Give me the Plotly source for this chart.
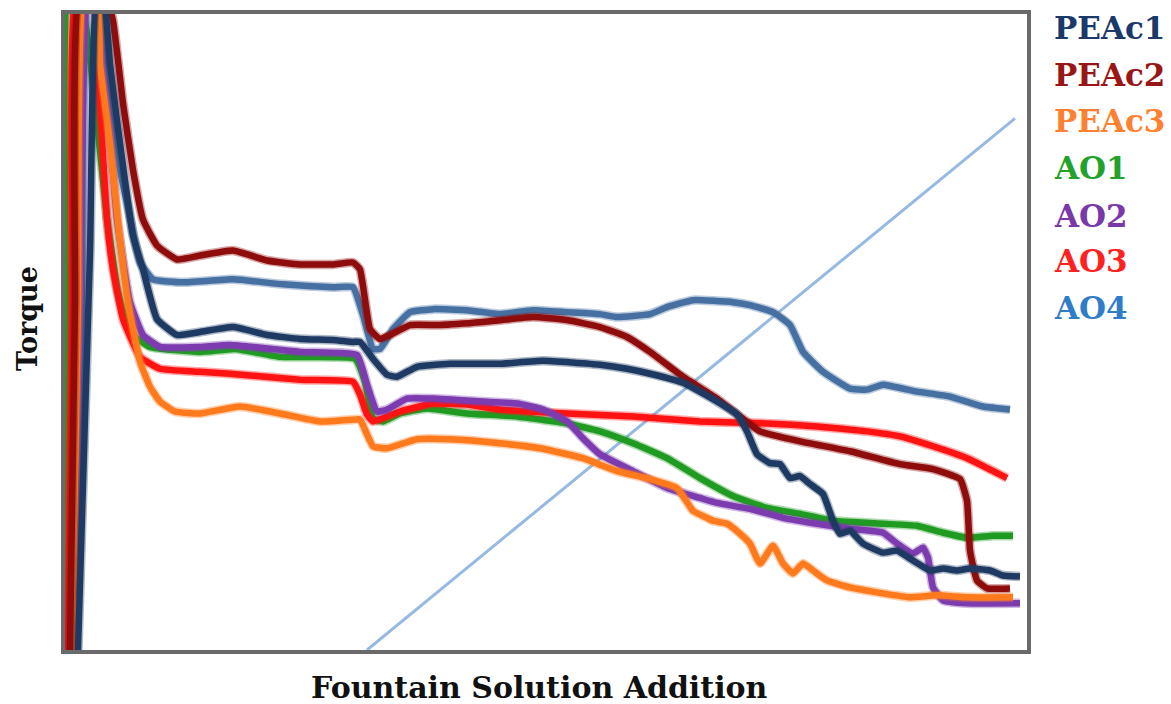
import plotly.graph_objects as go

# Fountain solution addition (arbitrary units) vs torque (arbitrary units)
peac1_x = [13, 25, 32, 38, 45, 52, 68, 78, 92, 112, 135, 168, 202, 235, 268, 288, 295, 308, 322, 332, 352, 385, 435, 478, 535, 562, 585, 618, 652, 672, 682, 692, 705, 715, 725, 735, 745, 758, 768, 775, 785, 798, 818, 832, 848, 865, 878, 892, 905, 925, 938, 955]
peac1_y = [0, 400, 660, 660, 590, 533, 417, 383, 333, 317, 320, 325, 317, 313, 312, 310, 310, 293, 277, 275, 285, 288, 288, 291, 287, 283, 278, 269, 250, 237, 220, 197, 188, 187, 173, 175, 167, 157, 130, 117, 120, 107, 98, 100, 90, 80, 82, 80, 82, 80, 75, 74]

peac2_x = [5, 10, 15, 40, 48, 58, 68, 78, 92, 112, 135, 168, 202, 235, 268, 288, 295, 305, 315, 325, 345, 375, 418, 468, 502, 535, 562, 585, 618, 652, 675, 695, 735, 785, 835, 868, 895, 902, 905, 912, 922, 945]
peac2_y = [0, 350, 660, 660, 633, 550, 483, 433, 407, 393, 397, 402, 392, 388, 388, 390, 383, 323, 313, 317, 327, 327, 330, 335, 332, 325, 315, 300, 275, 253, 235, 220, 210, 200, 187, 182, 172, 150, 100, 70, 62, 62]

peac3_x = [7, 13, 19, 32, 35, 45, 53, 63, 75, 85, 95, 110, 135, 175, 215, 255, 290, 295, 308, 322, 352, 385, 435, 475, 518, 552, 585, 612, 628, 642, 648, 662, 675, 685, 695, 708, 718, 728, 738, 752, 762, 785, 818, 845, 872, 902, 948]
peac3_y = [0, 350, 660, 660, 590, 510, 430, 350, 290, 265, 250, 240, 238, 245, 238, 230, 232, 232, 205, 203, 212, 212, 208, 203, 193, 180, 172, 163, 140, 133, 130, 127, 117, 107, 87, 105, 87, 77, 87, 77, 70, 63, 57, 53, 55, 53, 53]

ao1_x = [0, 1, 3, 15, 30, 42, 53, 65, 85, 135, 170, 215, 290, 300, 308, 318, 335, 362, 402, 452, 502, 535, 568, 602, 635, 668, 702, 735, 768, 818, 852, 878, 902, 928, 948]
ao1_y = [0, 350, 660, 660, 550, 435, 360, 320, 305, 300, 303, 295, 293, 270, 233, 230, 238, 243, 238, 235, 228, 220, 208, 193, 173, 155, 143, 137, 130, 127, 125, 118, 113, 115, 115]

ao2_x = [7, 15, 23, 30, 37, 45, 52, 65, 78, 95, 135, 165, 235, 292, 302, 312, 322, 342, 368, 418, 452, 478, 502, 518, 535, 568, 602, 635, 652, 685, 718, 752, 785, 818, 832, 848, 858, 863, 868, 878, 902, 955]
ao2_y = [0, 350, 660, 660, 590, 517, 433, 350, 317, 305, 305, 307, 300, 297, 267, 240, 242, 253, 253, 250, 248, 242, 230, 213, 197, 180, 163, 153, 148, 142, 133, 127, 122, 118, 107, 97, 103, 93, 63, 50, 47, 47]

ao3_x = [3, 7, 11, 27, 35, 42, 48, 58, 75, 95, 135, 165, 235, 288, 295, 302, 308, 335, 368, 402, 435, 502, 568, 635, 702, 752, 802, 835, 868, 902, 942]
ao3_y = [0, 350, 660, 660, 550, 433, 383, 333, 295, 283, 280, 278, 272, 270, 257, 237, 230, 240, 248, 247, 242, 238, 235, 230, 228, 225, 220, 215, 205, 193, 173]

ao4_x = [11, 17, 23, 35, 45, 55, 62, 75, 88, 118, 168, 218, 268, 288, 298, 308, 315, 328, 345, 368, 402, 435, 468, 502, 535, 552, 585, 602, 628, 668, 685, 708, 725, 738, 758, 785, 802, 818, 852, 885, 918, 945]
ao4_y = [0, 350, 660, 660, 570, 483, 450, 390, 373, 370, 373, 368, 365, 365, 337, 303, 303, 323, 340, 343, 342, 338, 342, 340, 338, 335, 338, 345, 352, 350, 347, 340, 327, 300, 280, 263, 262, 267, 260, 255, 245, 242]

addition_x = [302, 950]
addition_y = [0, 535]

names = ["PEAc1", "PEAc2", "PEAc3", "AO1", "AO2", "AO3", "AO4"]
line_colors = {"PEAc1": "#1E3A62", "PEAc2": "#8E0C0C", "PEAc3": "#FF7A1C",
               "AO1": "#1F9B22", "AO2": "#7C3BAE", "AO3": "#FF1212", "AO4": "#4670A2"}
label_colors = {"PEAc1": "#1B3A6B", "PEAc2": "#981616", "PEAc3": "#FF8030",
                "AO1": "#22A22A", "AO2": "#7A38A8", "AO3": "#FF2020", "AO4": "#2F7DC8"}
series = {"PEAc1": (peac1_x, peac1_y), "PEAc2": (peac2_x, peac2_y), "PEAc3": (peac3_x, peac3_y),
          "AO1": (ao1_x, ao1_y), "AO2": (ao2_x, ao2_y), "AO3": (ao3_x, ao3_y), "AO4": (ao4_x, ao4_y)}

fig = go.Figure()
fig.add_trace(go.Scatter(x=addition_x, y=addition_y, mode="lines",
                         line=dict(color="#96B9E4", width=3), showlegend=False, hoverinfo="skip"))
draw_order = ["AO4", "AO1", "AO3", "AO2", "PEAc3", "PEAc2", "PEAc1"]
for n in draw_order:
    xs, ys = series[n]
    # soft halo underneath, then the solid line
    fig.add_trace(go.Scatter(x=xs, y=ys, mode="lines", opacity=0.35, hoverinfo="skip",
                             line=dict(color=line_colors[n], width=9.5, shape="spline", smoothing=0.4),
                             showlegend=False))
    fig.add_trace(go.Scatter(x=xs, y=ys, mode="lines", name=n,
                             line=dict(color=line_colors[n], width=6.5, shape="spline", smoothing=0.4),
                             showlegend=False))

L, R, T, B = 65, 144, 10, 54
pw, ph = 1171 - L - R, 704 - T - B
label_y_px = [24, 71, 118, 165, 213, 259, 306]
annotations = []
for n, ypx in zip(names, label_y_px):
    annotations.append(dict(text="<b>" + n + "</b>", xref="paper", yref="paper",
                            x=(1052 - L) / pw, y=(650 - ypx) / ph,
                            xanchor="left", yanchor="middle", showarrow=False,
                            font=dict(family="DejaVu Serif", size=31, color=label_colors[n])))
annotations.append(dict(text="<b>Fountain Solution Addition</b>", xref="paper", yref="paper",
                        x=(539 - L) / pw, y=(650 - 688) / ph, xanchor="center", yanchor="middle",
                        showarrow=False, font=dict(family="DejaVu Serif", size=30, color="#111111")))
annotations.append(dict(text="<b>Torque</b>", xref="paper", yref="paper",
                        x=(27 - L) / pw, y=(650 - 317) / ph, xanchor="center", yanchor="middle",
                        textangle=-90, showarrow=False,
                        font=dict(family="DejaVu Serif", size=27, color="#111111")))

fig.update_layout(width=1171, height=704, margin=dict(l=L, r=R, t=T, b=B),
                  paper_bgcolor="white", plot_bgcolor="white",
                  annotations=annotations, showlegend=False)
fig.update_xaxes(range=[0, 962], showgrid=False, zeroline=False, showticklabels=False, ticks="",
                 showline=True, mirror=True, linecolor="#6A6A6A", linewidth=4)
fig.update_yaxes(range=[0, 640], showgrid=False, zeroline=False, showticklabels=False, ticks="",
                 showline=True, mirror=True, linecolor="#6A6A6A", linewidth=4)
fig.write_html("out.html", config={"displayModeBar": False},
               post_script="document.body.style.margin='0px';document.body.style.overflow='hidden';")
